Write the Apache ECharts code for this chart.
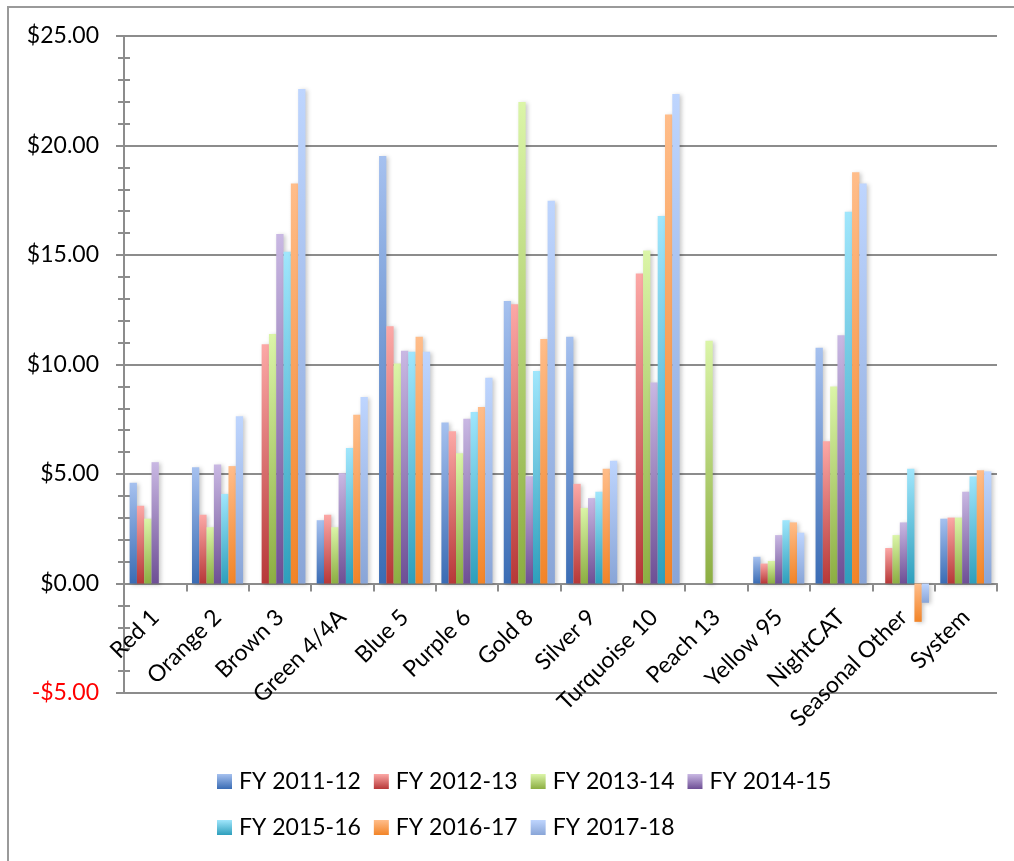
<!DOCTYPE html>
<html>
<head>
<meta charset="utf-8">
<title>Cost per Route by Fiscal Year</title>
<script src="https://cdn.jsdelivr.net/npm/echarts@6/dist/echarts.min.js"></script>
<style>
  html, body { margin: 0; padding: 0; background: #ffffff; }
  #chart { width: 1014px; height: 861px; }
</style>
</head>
<body>
<div id="chart"></div>
<script>
// Routes along the category axis
const routes = ['Red 1', 'Orange 2', 'Brown 3', 'Green 4/4A', 'Blue 5', 'Purple 6', 'Gold 8',
  'Silver 9', 'Turquoise 10', 'Peach 13', 'Yellow 95', 'NightCAT', 'Seasonal Other', 'System'];

// Fiscal years (series names)
const fiscalYears = ['FY 2011-12', 'FY 2012-13', 'FY 2013-14', 'FY 2014-15', 'FY 2015-16', 'FY 2016-17', 'FY 2017-18'];

// Dollar values per route, one array per fiscal year (null = no service that year)
const fy2011_12 = [4.60, 5.31, null, 2.89, 19.52, 7.35, 12.90, 11.27, null, null, 1.22, 10.77, null, 2.96];
const fy2012_13 = [3.55, 3.14, 10.92, 3.14, 11.75, 6.95, 12.75, 4.55, 14.15, null, 0.91, 6.49, 1.62, 3.01];
const fy2013_14 = [2.96, 2.57, 11.39, 2.57, 10.04, 5.95, 21.99, 3.45, 15.20, 11.09, 1.03, 8.99, 2.21, 3.01];
const fy2014_15 = [5.54, 5.43, 15.96, 5.04, 10.63, 7.52, 4.90, 3.90, 9.18, null, 2.21, 11.34, 2.79, 4.19];
const fy2015_16 = [null, 4.09, 15.15, 6.19, 10.58, 7.83, 9.70, 4.19, 16.78, null, 2.89, 16.97, 5.24, 4.89];
const fy2016_17 = [null, 5.36, 18.26, 7.71, 11.27, 8.06, 11.17, 5.24, 21.42, null, 2.79, 18.78, -1.75, 5.17];
const fy2017_18 = [null, 7.64, 22.58, 8.52, 10.58, 9.40, 17.48, 5.61, 22.35, null, 2.32, 18.27, -0.88, 5.12];

const seriesValues = [fy2011_12, fy2012_13, fy2013_14, fy2014_15, fy2015_16, fy2016_17, fy2017_18];

// Value-axis tick labels, from -5 upward in steps of 5
const yTickValues = [-5, 0, 5, 10, 15, 20, 25];
const yTickLabels = ['-$5.00', '$0.00', '$5.00', '$10.00', '$15.00', '$20.00', '$25.00'];

// Top / bottom gradient stops for each fiscal year
const barShades = [
  ['#a6c1ef', '#3a6cb4'],
  ['#fca8a6', '#b73838'],
  ['#dbf5a8', '#8cae42'],
  ['#c9b8e3', '#6e4f95'],
  ['#a0e6fc', '#2e9fbc'],
  ['#ffbd8a', '#f28427'],
  ['#bed5fe', '#89a5d7']
];

const FONT = 'Lato, "Open Sans", sans-serif';

const Y_MIN = -5, Y_MAX = 25;
const GRID = { left: 124, right: 17, top: 36, bottom: 168 };
const CHART_H = 861;

function shade(pair) {
  return new echarts.graphic.LinearGradient(0, 0, 0, 1, [
    { offset: 0, color: pair[0] },
    { offset: 1, color: pair[1] }
  ]);
}

// The route axis sits on the $0 line: shift it up from the grid bottom
// by the share of the plot height that lies below zero.
const plotH = CHART_H - GRID.top - GRID.bottom;
const zeroShift = plotH * (0 - Y_MIN) / (Y_MAX - Y_MIN);

const chart = echarts.init(document.getElementById('chart'), null, { renderer: 'canvas' });

const series = fiscalYears.map((name, i) => ({
  name: name,
  type: 'bar',
  data: seriesValues[i],
  barGap: '0%',
  barCategoryGap: '18%',
  itemStyle: {
    color: shade(barShades[i]),
    shadowColor: 'rgba(0,0,0,0.22)',
    shadowBlur: 4,
    shadowOffsetX: 2,
    shadowOffsetY: 1
  },
  emphasis: { disabled: true }
}));

const gridLine = '#8c8c8c';

chart.setOption({
  backgroundColor: '#ffffff',
  animation: false,
  graphic: [{
    type: 'rect',
    shape: { x: 8, y: 7, width: 1030, height: 880 },
    style: { fill: 'none', stroke: '#9a9a9a', lineWidth: 2 },
    silent: true,
    z: -10
  }],
  grid: { left: GRID.left, right: GRID.right, top: GRID.top, bottom: GRID.bottom, containLabel: false },
  legend: {
    data: fiscalYears,
    left: 212,
    top: 760,
    width: 640,
    orient: 'horizontal',
    icon: 'rect',
    itemWidth: 15,
    itemHeight: 15,
    itemGap: 13,
    textStyle: { fontFamily: FONT, fontSize: 23, color: '#000', lineHeight: 33, padding: [0, 0, 0, 2] }
  },
  xAxis: {
    type: 'category',
    data: routes,
    boundaryGap: true,
    position: 'bottom',
    offset: -zeroShift,
    axisLine: { onZero: false, lineStyle: { color: gridLine, width: 2 } },
    axisTick: { show: true, length: 8, lineStyle: { color: gridLine, width: 2 } },
    axisLabel: {
      interval: 0,
      rotate: 45,
      margin: 30,
      hideOverlap: false,
      fontFamily: FONT,
      fontSize: 23,
      color: '#000'
    },
    splitLine: { show: false }
  },
  yAxis: [{
    type: 'value',
    min: Y_MIN,
    max: Y_MAX,
    interval: 5,
    axisLine: { show: true, lineStyle: { color: gridLine, width: 2 } },
    axisTick: { show: true, length: 8, lineStyle: { color: gridLine, width: 2 } },
    minorTick: { show: true, splitNumber: 5, length: 6, lineStyle: { color: gridLine, width: 2 } },
    splitLine: { show: true, lineStyle: { color: gridLine, width: 2 } },
    axisLabel: {
      margin: 25,
      fontFamily: FONT,
      fontSize: 23,
      color: '#000',
      formatter: function (v) {
        const idx = yTickValues.indexOf(v);
        const text = idx >= 0 ? yTickLabels[idx] : '';
        return v < 0 ? '{neg|' + text + '}' : text;
      },
      rich: { neg: { color: '#ff0000', fontFamily: FONT, fontSize: 23 } }
    }
  }, {
    // inner half of the minor ticks, sharing the same scale
    type: 'value',
    position: 'left',
    min: Y_MIN,
    max: Y_MAX,
    interval: 5,
    axisLine: { show: false },
    axisTick: { show: false, inside: true },
    minorTick: { show: true, splitNumber: 5, length: 6, lineStyle: { color: gridLine, width: 2 } },
    splitLine: { show: false },
    axisLabel: { show: false }
  }],
  series: series
});
</script>
</body>
</html>
